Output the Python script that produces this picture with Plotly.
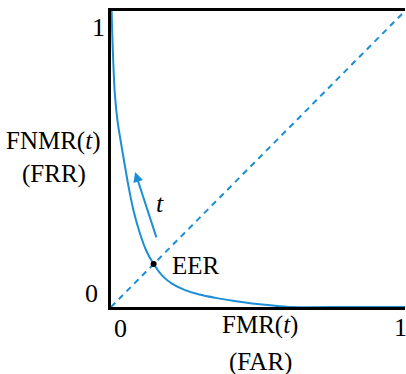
import plotly.graph_objects as go

# DET curve values (FMR vs FNMR)
fmr = [0.002, 0.004, 0.008, 0.013, 0.022, 0.033, 0.045, 0.06, 0.078, 0.098, 0.12, 0.145, 0.175, 0.21, 0.25, 0.30, 0.36, 0.42, 0.48, 0.55, 0.61, 0.8, 1.0]
fnmr = [1.0, 0.93, 0.82, 0.72, 0.63, 0.56, 0.49, 0.405, 0.32, 0.25, 0.19, 0.145, 0.105, 0.077, 0.058, 0.042, 0.030, 0.020, 0.012, 0.005, 0.0, 0.0, 0.0]
diag = [0.0, 1.0]
eer = [0.145]
arrow_tail = [0.156, 0.23]
arrow_head = [0.082, 0.456]

BLUE = "#1b8ed6"
FONT = "Liberation Serif"

fig = go.Figure()
fig.add_trace(go.Scatter(x=diag, y=diag, mode="lines",
                         line=dict(color=BLUE, width=2, dash="6px,5px"),
                         cliponaxis=False, hoverinfo="skip"))
fig.add_trace(go.Scatter(x=fmr, y=fnmr, mode="lines",
                         line=dict(color=BLUE, width=2, shape="spline", smoothing=0.6),
                         cliponaxis=False, hoverinfo="skip"))
fig.add_trace(go.Scatter(x=eer, y=eer, mode="markers",
                         marker=dict(color="black", size=6),
                         cliponaxis=False, hoverinfo="skip"))

ann = []
def txt(x, y, s, xa="center", size=26):
    ann.append(dict(x=x, y=y, xref="paper", yref="paper", text=s, showarrow=False,
                    xanchor=xa, yanchor="middle",
                    font=dict(family=FONT, size=size, color="black")))

txt(-0.044, 0.943, "1")
txt(-0.065, 0.044, "0")
txt(0.034, -0.074, "0")
txt(0.986, -0.068, "1")
txt(0.507, -0.061, "FMR(<i>t</i>)", size=25)
txt(0.507, -0.186, "(FAR)", size=25)
txt(-0.197, 0.561, "FNMR(<i>t</i>)", size=25)
txt(-0.194, 0.449, "(FRR)", size=25)
txt(0.2, 0.139, "EER", xa="left", size=25)
txt(0.167, 0.351, "<i>t</i>", size=26)

ann.append(dict(x=arrow_head[0], y=arrow_head[1], ax=arrow_tail[0], ay=arrow_tail[1],
                xref="x", yref="y", axref="x", ayref="y", text="",
                showarrow=True, arrowhead=2, arrowsize=1, arrowwidth=2,
                arrowcolor=BLUE))

fig.update_layout(
    width=406, height=374,
    margin=dict(l=111, r=1, t=11, b=67),
    paper_bgcolor="white", plot_bgcolor="white",
    showlegend=False,
    annotations=ann,
    xaxis=dict(range=[0, 1], showgrid=False, zeroline=False, showticklabels=False,
               ticks="", showline=True, linecolor="black", linewidth=3,
               mirror=True, layer="below traces", fixedrange=True),
    yaxis=dict(range=[0, 1], showgrid=False, zeroline=False, showticklabels=False,
               ticks="", showline=True, linecolor="black", linewidth=3,
               mirror=False, layer="below traces", fixedrange=True),
)

fig.write_html("out.html", config={"displayModeBar": False},
               post_script="document.body.style.margin='0';document.body.style.overflow='hidden';")
